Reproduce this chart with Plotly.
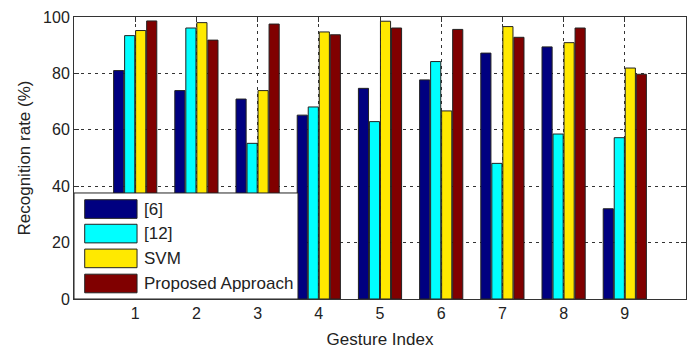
import plotly.graph_objects as go

gestures = [1, 2, 3, 4, 5, 6, 7, 8, 9]
series_names = ["[6]", "[12]", "SVM", "Proposed Approach"]
colors = ["#000080", "#00FFFF", "#FFE900", "#800000"]
ref6 = [81.0, 73.9, 70.9, 65.2, 74.7, 77.7, 87.2, 89.4, 32.0]
ref12 = [93.4, 96.1, 55.2, 68.1, 62.9, 84.2, 48.1, 58.5, 57.2]
svm = [95.2, 98.0, 73.9, 94.7, 98.5, 66.7, 96.6, 90.9, 81.9]
proposed = [98.6, 91.8, 97.5, 93.7, 96.1, 95.6, 92.8, 96.1, 79.7]
values = [ref6, ref12, svm, proposed]

font_family = "Arial"

fig = go.Figure()
for name, col, vals in zip(series_names, colors, values):
    fig.add_trace(go.Bar(
        x=gestures, y=vals, name=name,
        marker=dict(color=col, line=dict(color="#222222", width=1)),
    ))

# custom MATLAB-like legend (box + swatches + labels) in data coordinates
shapes = [dict(type="rect", xref="x", yref="y", x0=0, x1=3.66, y0=0, y1=37.6,
               fillcolor="white", line=dict(color="#222222", width=1), layer="above")]
annotations = []
row_centers = [31.9, 23.2, 14.4, 5.5]
for name, col, yc in zip(series_names, colors, row_centers):
    shapes.append(dict(type="rect", xref="x", yref="y", x0=0.175, x1=1.03,
                       y0=yc - 3.3, y1=yc + 3.3, fillcolor=col,
                       line=dict(color="#222222", width=1), layer="above"))
    annotations.append(dict(x=1.11, y=yc, xref="x", yref="y", text=name,
                            showarrow=False, xanchor="left", yanchor="middle",
                            font=dict(family=font_family, size=17, color="#222222")))

fig.update_layout(
    width=696, height=349,
    margin=dict(l=74, r=10, t=17, b=50),
    paper_bgcolor="white", plot_bgcolor="white",
    barmode="group", bargap=0.28, bargroupgap=0.08,
    showlegend=False,
    shapes=shapes, annotations=annotations,
    font=dict(family=font_family, size=16, color="#222222"),
    xaxis=dict(
        range=[0, 10], tickmode="array", tickvals=gestures,
        ticktext=[str(g) for g in gestures],
        showline=True, linecolor="#333333", linewidth=1, mirror="ticks",
        ticks="inside", ticklen=5, tickcolor="#333333",
        showgrid=True, gridcolor="#333333", griddash="3px,4px", gridwidth=1,
        zeroline=False, automargin=False,
        title=dict(text="Gesture Index", font=dict(size=17), standoff=12),
    ),
    yaxis=dict(
        range=[0, 100], tickvals=[0, 20, 40, 60, 80, 100],
        showline=True, linecolor="#333333", linewidth=1, mirror="ticks",
        ticks="inside", ticklen=5, tickcolor="#333333",
        showgrid=True, gridcolor="#333333", griddash="3px,4px", gridwidth=1,
        zeroline=False, automargin=False,
        title=dict(text="Recognition rate (%)", font=dict(size=17), standoff=8),
    ),
)

fig.write_html("out.html", config={"displayModeBar": False},
               post_script="document.body.style.margin='0';")
